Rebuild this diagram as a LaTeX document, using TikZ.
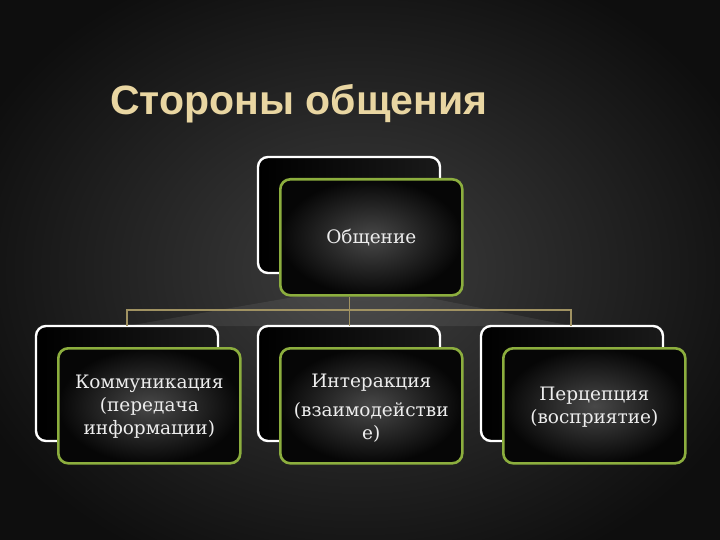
\documentclass[tikz,border=0pt]{standalone}
\usepackage{fontspec}
\setmainfont{DejaVu Serif}
\newfontfamily\titlefont{Liberation Sans}
\definecolor{titletan}{HTML}{E9D6A2}
\definecolor{framegreen}{HTML}{8CAE3E}
\definecolor{linktan}{HTML}{A09262}
\definecolor{bgmid}{HTML}{3E3E3E}
\definecolor{bgedge}{HTML}{0E0E0E}
\definecolor{boxmid}{HTML}{484848}
\definecolor{boxedge}{HTML}{060606}
\begin{document}
\begin{tikzpicture}[x=1pt,y=-1pt,
  backbox/.style={draw=white,line width=2.4pt,rounded corners=10pt,left color=black,right color=black!75!white!40!black},
  frontbox/.style={draw=framegreen,line width=2.6pt,rounded corners=10pt,inner color=boxmid,outer color=boxedge},
  boxtext/.style={text=white!93!black,align=center,font=\fontsize{18.5}{23}\selectfont},
  link/.style={draw=linktan,line width=1.3pt}]
\useasboundingbox (0,0) rectangle (720,540);
\shade[inner color=bgmid,outer color=bgedge] (-60,-60) rectangle (780,600);
% title
\node[anchor=base west,inner sep=0pt,text=titletan,font=\titlefont\bfseries\fontsize{41}{44}\selectfont] (title) at (110,114.5) {Стороны общения};
% faint shadow wedge
\fill[white,opacity=0.07] (127,326) -- (300,296) -- (420,296) -- (572,326) -- cycle;
% top boxes
\path[backbox] (258,157) rectangle (440,273);
\node[frontbox,minimum width=182pt,minimum height=116pt,anchor=north west] (top) at (279,178) {};
\node[boxtext] (toptext) at (top.center) {Общение};
% bottom back boxes
\path[backbox] (36,326) rectangle (218,441);
\path[backbox] (258,326) rectangle (440,441);
\path[backbox] (481,326) rectangle (663,441);
% connectors
\coordinate (j) at (349.5,310);
\coordinate (jl) at (127,310);
\coordinate (jr) at (571,310);
\coordinate (bl) at (127,326);
\coordinate (bm) at (349.5,326);
\coordinate (br) at (571,326);
\draw[link] (top.south -| j) -- (bm);
\draw[link] (bl) -- (jl) -- (jr) -- (br);
% front bottom boxes
\node[frontbox,minimum width=182pt,minimum height=115pt,anchor=north west] (left) at (57,347) {};
\node[frontbox,minimum width=182pt,minimum height=115pt,anchor=north west] (mid) at (279,347) {};
\node[frontbox,minimum width=182pt,minimum height=115pt,anchor=north west] (right) at (502,347) {};
\node[boxtext] (lefttext) at ([yshift=-1pt]left.center) {Коммуникация\\(передача\\информации)};
\node[boxtext] (midtext) at ([yshift=-2pt]mid.center) {Интеракция\\[6pt](взаимодействи\\е)};
\node[boxtext] (righttext) at ([yshift=-1pt]right.center) {Перцепция\\(восприятие)};
\end{tikzpicture}
\end{document}
